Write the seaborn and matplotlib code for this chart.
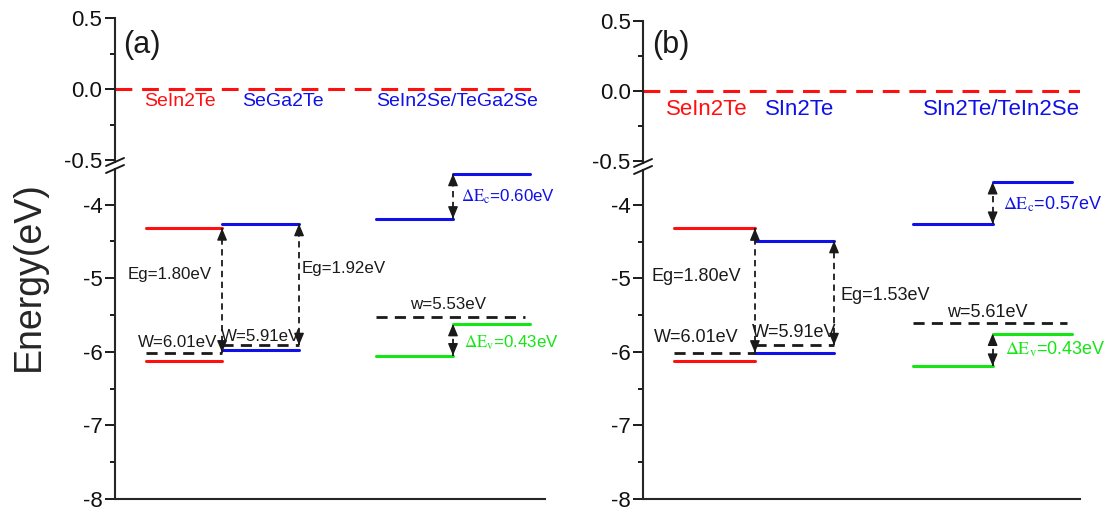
import numpy as np
import pandas as pd
import matplotlib.pyplot as plt
import seaborn as sns
from matplotlib.lines import Line2D
from matplotlib.ticker import MultipleLocator

# ---- band edges (eV) ----
# panel (a)
a_mat = ['SeIn2Te', 'SeGa2Te', 'SeIn2Se/TeGa2Se']
a_cbm = [-4.32, -4.26]
a_vbm = [-6.12, -5.98]
a_wf = [-6.01, -5.91]
a_het_cbm = [-4.19, -3.58]
a_het_vbm = [-6.05, -5.62]
a_het_wf = -5.53
a_eg_txt = ['Eg=1.80eV', 'Eg=1.92eV']
a_w_txt = ['W=6.01eV', 'W=5.91eV']
a_het_txt = ['w=5.53eV', r'$\Delta\mathrm{E}_\mathrm{c}$=0.60eV', r'$\Delta\mathrm{E}_\mathrm{v}$=0.43eV']

# panel (b)
b_mat = ['SeIn2Te', 'SIn2Te', 'SIn2Te/TeIn2Se']
b_cbm = [-4.32, -4.49]
b_vbm = [-6.12, -6.02]
b_wf = [-6.01, -5.91]
b_het_cbm = [-4.26, -3.69]
b_het_vbm = [-6.19, -5.75]
b_het_wf = -5.61
b_eg_txt = ['Eg=1.80eV', 'Eg=1.53eV']
b_w_txt = ['W=6.01eV', 'W=5.91eV']
b_het_txt = ['w=5.61eV', r'$\Delta\mathrm{E}_\mathrm{c}$=0.57eV', r'$\Delta\mathrm{E}_\mathrm{v}$=0.43eV']

RED, BLUE, GREEN = '#ff1010', '#1010e8', '#14e614'

sns.set_theme(style='ticks')
plt.rcParams['font.family'] = ['Liberation Sans', 'DejaVu Sans']
plt.rcParams['mathtext.fontset'] = 'stix'

fig = plt.figure(figsize=(11.1, 5.13), dpi=100)


def varrow(ax, x, y0, y1, lw=1.3):
    # dashed vertical line with a filled head at both ends
    ax.plot([x, x], [y0, y1], color='k', lw=lw, ls=(0, (3.5, 2.5)))
    hl = 0.14 * np.sign(y1 - y0)
    for tip, tail in [(y1, y1 - hl), (y0, y0 + hl)]:
        ax.annotate('', xy=(x, tip), xytext=(x, tail),
                    arrowprops=dict(arrowstyle='-|>,head_length=0.6,head_width=0.25',
                                    color='k', lw=1.0, shrinkA=0, shrinkB=0))


def panel(rect_top, rect_bot, top_ylim, bot_ylim, lay, mat, cbm, vbm, wf,
          het_cbm, het_vbm, het_wf, eg_txt, w_txt, het_txt):
    at = fig.add_axes(rect_top)
    ab = fig.add_axes(rect_bot)
    s = lay['slots']
    h = lay['het']

    # level segments
    rows = []
    segs = [(s[0], s[1], cbm[0], 'r1'), (s[0], s[1], vbm[0], 'r2'),
            (s[1], s[2], cbm[1], 'b1'), (s[1], s[2], vbm[1], 'b2'),
            (h[0], h[1], het_cbm[0], 'b3'), (h[1], h[2], het_cbm[1], 'b4'),
            (h[0], h[1], het_vbm[0], 'g1'), (h[1], h[2], het_vbm[1], 'g2')]
    for x0, x1, e, k in segs:
        rows += [dict(seg=k, x=x0, E=e), dict(seg=k, x=x1, E=e)]
    df = pd.DataFrame(rows)
    pal = {k: (RED if k[0] == 'r' else BLUE if k[0] == 'b' else GREEN) for k in df.seg.unique()}
    sns.lineplot(data=df, x='x', y='E', units='seg', hue='seg', palette=pal,
                 estimator=None, sort=False, lw=2.2, legend=False, ax=ab)

    # work function (dashed) lines
    wrows = []
    for x0, x1, e, k in [(s[0], s[1], wf[0], 'w1'), (s[1], s[2], wf[1], 'w2'),
                         (h[0], lay['wend'], het_wf, 'w3')]:
        wrows += [dict(seg=k, x=x0, E=e), dict(seg=k, x=x1, E=e)]
    sns.lineplot(data=pd.DataFrame(wrows), x='x', y='E', units='seg', color='k',
                 estimator=None, sort=False, lw=2.0, ls=(0, (4, 2.6)), legend=False, ax=ab)

    # gap arrows
    varrow(ab, s[1], wf[0], cbm[0])
    varrow(ab, s[2], wf[1], cbm[1])
    varrow(ab, h[1], het_cbm[0], het_cbm[1])
    varrow(ab, h[1], het_vbm[0], het_vbm[1])

    fa = lay['fs_ann']
    (x, y, ha), (x2, y2, ha2) = lay['eg_pos']
    ab.text(x, y, eg_txt[0], ha=ha, va='center', fontsize=fa, color='k')
    ab.text(x2, y2, eg_txt[1], ha=ha2, va='center', fontsize=fa, color='k')
    for (x, y), t in zip(lay['w_pos'], w_txt):
        ab.text(x, y, t, ha='center', va='center', fontsize=fa, color='k')
    ab.text(*lay['hw_pos'], het_txt[0], ha='center', va='center', fontsize=fa, color='k')
    ab.text(*lay['dec_pos'], het_txt[1], ha='left', va='center', fontsize=fa, color=BLUE)
    ab.text(*lay['dev_pos'], het_txt[2], ha='left', va='center', fontsize=fa, color=GREEN)

    # vacuum level and material names
    at.plot([0, lay['vend']], [0, 0], color=RED, lw=2.2, ls=(0, (5.5, 3.2)))
    for xx, name, c in zip(lay['lab_x'], mat, [RED, BLUE, BLUE]):
        at.text(xx, lay['lab_y'], name, ha='center', va='center',
                fontsize=lay['fs_lab'], color=c)
    at.text(*lay['tag_pos'], lay['tag'], ha='left', va='center', fontsize=22, color='k')

    for ax in (at, ab):
        ax.set_xlim(0, 10)
        ax.set_xticks([])
        ax.set_xlabel('')
        ax.set_ylabel('')
        ax.patch.set_alpha(0)
        for sp in ('top', 'right'):
            ax.spines[sp].set_visible(False)
        ax.spines['left'].set_linewidth(1.5)
        ax.spines['bottom'].set_linewidth(1.5)
        ax.tick_params(axis='y', which='major', direction='out', length=7, width=1.4,
                       labelsize=16, pad=2, color='k', labelcolor='#111111')
        ax.tick_params(axis='y', which='minor', direction='out', length=3.5, width=1.4,
                       color='k', left=True)
    at.spines['bottom'].set_visible(False)
    at.set_ylim(*top_ylim)
    at.yaxis.set_major_locator(MultipleLocator(0.5))
    at.yaxis.set_minor_locator(MultipleLocator(0.25))
    at.yaxis.set_major_formatter(lambda v, p: f'{v:.1f}')
    ab.set_ylim(*bot_ylim)
    ab.yaxis.set_major_locator(MultipleLocator(1))
    ab.yaxis.set_minor_locator(MultipleLocator(0.5))
    ab.yaxis.set_major_formatter(lambda v, p: f'{v:.0f}')

    # axis break marks
    xs = rect_top[0]
    for yc in lay['brk']:
        fig.add_artist(Line2D([xs - 9 / 1110, xs + 9 / 1110],
                              [1 - (yc + 4) / 513, 1 - (yc - 4) / 513],
                              color='k', lw=1.4, transform=fig.transFigure))
    return at, ab


lay_a = dict(slots=[0.72, 2.49, 4.28], het=[6.07, 7.86, 9.65], wend=9.53, vend=9.86,
             fs_ann=12.2, fs_lab=14, lab_x=[1.5, 3.9, 7.96], lab_y=-0.09,
             tag='(a)', tag_pos=(0.2, 0.31),
             eg_pos=[(1.28, -4.95, 'center'), (4.35, -4.87, 'left')],
             w_pos=[(1.45, -5.87), (3.39, -5.79)], hw_pos=(7.75, -5.35),
             dec_pos=(8.04, -3.89), dev_pos=(8.11, -5.88), brk=[162, 169])
lay_b = dict(slots=[0.71, 2.56, 4.37], het=[6.17, 8.0, 9.82], wend=9.7, vend=10.0,
             fs_ann=13, fs_lab=16, lab_x=[1.45, 3.58, 8.2], lab_y=-0.135,
             tag='(b)', tag_pos=(0.2, 0.33),
             eg_pos=[(1.21, -4.98, 'center'), (4.53, -5.23, 'left')],
             w_pos=[(1.21, -5.81), (3.46, -5.73)], hw_pos=(7.87, -5.46),
             dec_pos=(8.24, -4.0), dev_pos=(8.28, -5.96), brk=[163, 170])

panel([0.1036, 0.6842, 0.3874, 0.2807], [0.1036, 0.0273, 0.3874, 0.6433],
      (-0.514, 0.5), (-8, -3.515), lay_a, a_mat, a_cbm, a_vbm, a_wf,
      a_het_cbm, a_het_vbm, a_het_wf, a_eg_txt, a_w_txt, a_het_txt)
panel([0.5793, 0.6822, 0.3937, 0.2768], [0.5793, 0.0273, 0.3937, 0.6413],
      (-0.514, 0.5), (-8, -3.527), lay_b, b_mat, b_cbm, b_vbm, b_wf,
      b_het_cbm, b_het_vbm, b_het_wf, b_eg_txt, b_w_txt, b_het_txt)

fig.text(0.026, 0.462, 'Energy(eV)', rotation=90, ha='center', va='center', fontsize=27)

fig.savefig('out.png', dpi=100)
